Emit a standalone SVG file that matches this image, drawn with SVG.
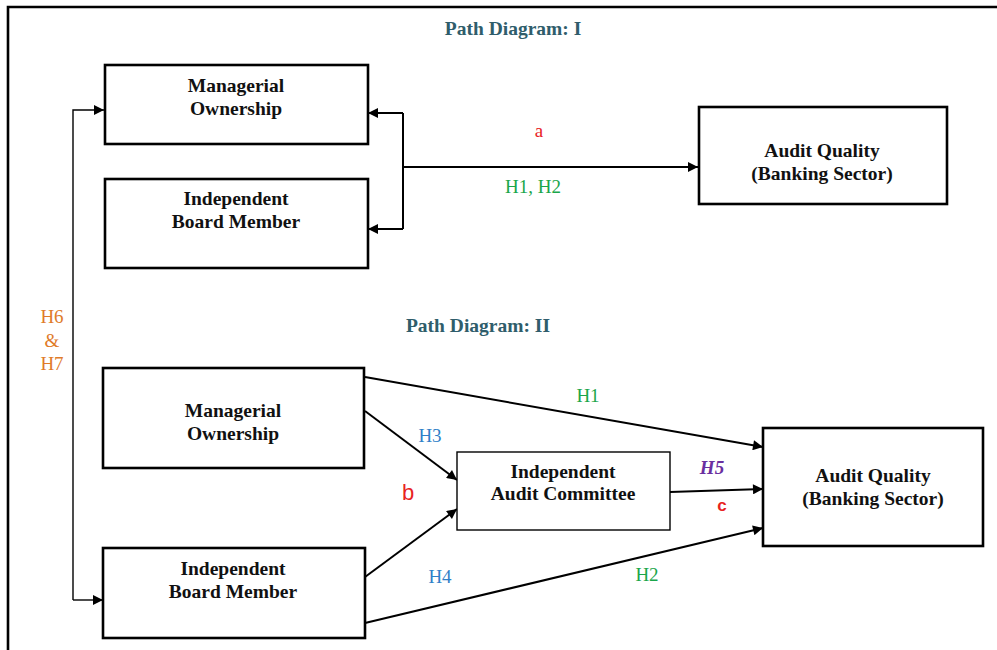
<svg xmlns="http://www.w3.org/2000/svg" width="997" height="650" viewBox="0 0 997 650">
<defs>
<marker id="ah" viewBox="0 0 10 10" refX="10" refY="5" markerWidth="11" markerHeight="10" markerUnits="userSpaceOnUse" orient="auto">
<path d="M0,0 L10,5 L0,10 Z" fill="#000"/>
</marker>
</defs>
<style>
.box{fill:#fff;stroke:#000;stroke-width:2.6}
.thin{fill:#fff;stroke:#000;stroke-width:1.4}
.nt{font-family:"Liberation Serif",serif;font-weight:bold;font-size:19.5px;fill:#111;text-anchor:middle}
.ttl{font-family:"Liberation Serif",serif;font-weight:bold;font-size:19.5px;fill:#2f5d6b;text-anchor:middle}
.lb{font-family:"Liberation Serif",serif;font-size:19px;text-anchor:middle}
.ln{fill:none;stroke:#000;stroke-width:2}
.lnt{fill:none;stroke:#000;stroke-width:1.4}
</style>
<rect width="997" height="650" fill="#fff"/>
<path d="M8,650 L8,7 L997,7" fill="none" stroke="#000" stroke-width="2.6"/>
<text class="ttl" x="513" y="35">Path Diagram: I</text>
<text class="ttl" x="478" y="332">Path Diagram: II</text>

<g id="connectors">
<path class="ln" d="M403,113 L403,229"/>
<path class="ln" d="M403,113 L368,113" marker-end="url(#ah)"/>
<path class="ln" d="M403,229 L368,229" marker-end="url(#ah)"/>
<path class="ln" d="M403,167 L698,167" marker-end="url(#ah)"/>
<path class="lnt" d="M73,600 L73,110 L104,110" marker-end="url(#ah)"/>
<path class="lnt" d="M73,600 L103,600" marker-end="url(#ah)"/>
<path class="ln" d="M365,377 L763,447" marker-end="url(#ah)"/>
<path class="ln" d="M365,411 L457,480" marker-end="url(#ah)"/>
<path class="ln" d="M365,577 L457,509" marker-end="url(#ah)"/>
<path class="ln" d="M670,492 L763,489" marker-end="url(#ah)"/>
<path class="ln" d="M365,623 L763,528" marker-end="url(#ah)"/>
<text class="lb" x="539" y="137" fill="#e8231f">a</text>
<text class="lb" x="533" y="193" fill="#1aa64a">H1, H2</text>
<text class="lb" x="52" y="323" fill="#e07b2a">H6</text>
<text class="lb" x="52" y="347" fill="#e07b2a">&amp;</text>
<text class="lb" x="52" y="370" fill="#e07b2a">H7</text>
<text class="lb" x="588" y="402" fill="#1aa64a">H1</text>
<text class="lb" x="430" y="442" fill="#2f7fc8">H3</text>
<text class="lb" x="408" y="500" fill="#e8231f" style="font-family:'Liberation Sans',sans-serif;font-size:22px">b</text>
<text class="lb" x="440" y="583" fill="#2f7fc8">H4</text>
<text class="lb" x="712" y="474" fill="#6a2fa0" font-weight="bold" font-style="italic">H5</text>
<text class="lb" x="722" y="511" fill="#e8231f" style="font-family:'Liberation Sans',sans-serif;font-size:17px;font-weight:bold">c</text>
<text class="lb" x="647" y="581" fill="#1aa64a">H2</text>
</g>

<g id="mo1">
<rect class="box" x="105" y="65" width="263" height="79"/>
<text class="nt" x="236" y="92">Managerial</text>
<text class="nt" x="236" y="115">Ownership</text>
</g>
<g id="ibm1">
<rect class="box" x="105" y="179" width="263" height="89"/>
<text class="nt" x="236" y="205">Independent</text>
<text class="nt" x="236" y="228">Board Member</text>
</g>
<g id="aq1">
<rect class="box" x="699" y="107" width="248" height="97"/>
<text class="nt" x="822" y="157">Audit Quality</text>
<text class="nt" x="822" y="180">(Banking Sector)</text>
</g>
<g id="mo2">
<rect class="box" x="103" y="368" width="261" height="100"/>
<text class="nt" x="233" y="417">Managerial</text>
<text class="nt" x="233" y="440">Ownership</text>
</g>
<g id="ibm2">
<rect class="box" x="103" y="548" width="262" height="90"/>
<text class="nt" x="233" y="575">Independent</text>
<text class="nt" x="233" y="598">Board Member</text>
</g>
<g id="iac">
<rect class="thin" x="457" y="452" width="213" height="78"/>
<text class="nt" x="563" y="478">Independent</text>
<text class="nt" x="563" y="500">Audit Committee</text>
</g>
<g id="aq2">
<rect class="box" x="763" y="428" width="220" height="118"/>
<text class="nt" x="873" y="482">Audit Quality</text>
<text class="nt" x="873" y="505">(Banking Sector)</text>
</g>
</svg>
